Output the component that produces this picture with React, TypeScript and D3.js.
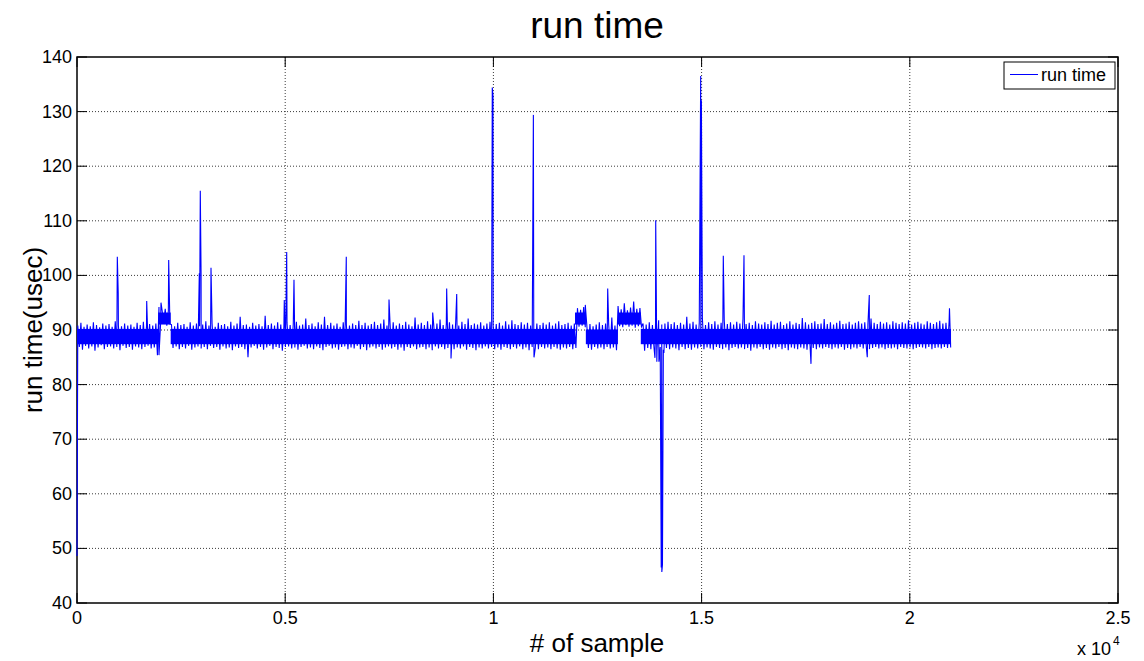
import React from 'react';
import * as d3 from 'd3';

// ---------- data ----------
const xTickValues = [0, 5000, 10000, 15000, 20000, 25000];
const xTickLabels = ['0', '0.5', '1', '1.5', '2', '2.5'];
const yTickValues = [40, 50, 60, 70, 80, 90, 100, 110, 120, 130, 140];

const binSize = 75; // samples per noise bin
const startValue = 48.6;

// upper envelope of the noise for each 75-sample bin
const binMax = [
  90.8, 91.3, 90.6, 91.0, 90.7, 91.4, 90.9, 90.5, 91.2, 90.8,
  91.1, 90.6, 91.6, 90.9, 90.7, 91.2, 90.8, 91.0, 90.6, 91.3,
  90.9, 91.5, 90.7, 91.1, 90.8, 91.2, 94.2, 93.6, 93.9, 93.5,
  91.0, 90.7, 91.3, 90.9, 91.1, 90.6, 91.4, 90.8, 91.2, 90.7,
  91.0, 91.6, 90.8, 91.2, 90.6, 91.3, 90.9, 91.1, 90.7, 91.5,
  90.8, 91.2, 92.4, 90.9, 91.0, 90.6, 91.3, 90.8, 91.1, 90.7,
  92.6, 90.9, 91.2, 90.8, 91.4, 91.0, 90.7, 91.3, 90.9, 91.1,
  91.5, 90.8, 91.0, 92.1, 90.9, 91.2, 90.7, 91.4, 91.0, 92.4,
  90.9, 91.3, 90.8, 91.2, 90.6, 91.4, 91.0, 90.8, 91.2, 90.9,
  91.7, 90.9, 91.3, 90.8, 91.1, 91.5, 90.9, 91.2, 91.9, 90.8,
  91.1, 91.4, 90.8, 91.2, 90.9, 91.5, 91.0, 90.7, 92.3, 91.0,
  91.3, 90.9, 91.6, 91.0, 90.8, 91.2, 91.9, 90.9, 91.1, 91.4,
  91.0, 91.3, 90.8, 91.5, 91.1, 92.1, 90.9, 91.2, 91.0, 91.4,
  90.8, 91.2, 91.5, 90.9, 91.1, 91.3, 90.8, 91.6, 91.0, 91.8,
  91.1, 90.9, 91.4, 91.0, 91.3, 90.8, 91.5, 91.2, 90.9, 91.3,
  91.0, 91.4, 90.8, 91.2, 91.6, 90.9, 91.1, 91.3, 90.8, 91.2,
  94.0, 93.7, 94.2, 90.8, 91.1, 90.7, 91.0, 91.4, 90.9, 91.2,
  91.0, 92.3, 90.8, 94.4, 93.8, 94.9, 93.6, 94.1, 95.2, 93.9,
  94.0, 91.2, 91.0, 91.4, 90.9, 91.3, 91.8, 91.0, 91.2, 91.5,
  91.1, 91.4, 90.9, 91.3, 91.0, 92.4, 91.2, 91.5, 91.0, 91.3,
  92.2, 90.9, 91.4, 91.1, 91.6, 91.0, 91.3, 91.8, 91.1, 91.4,
  91.0, 91.5, 91.2, 92.0, 91.1, 91.3, 90.9, 91.6, 91.2, 91.0,
  91.4, 91.1, 91.7, 91.0, 91.3, 91.5, 90.9, 91.2, 91.6, 91.0,
  91.3, 91.1, 92.2, 91.4, 91.0, 91.3, 91.6, 91.1, 91.2, 92.0,
  91.1, 91.4, 91.0, 91.3, 91.7, 91.1, 91.2, 91.5, 91.0, 91.3,
  91.6, 91.2, 91.4, 91.0, 92.1, 91.3, 91.1, 91.5, 91.2, 91.4,
  91.0, 91.6, 91.3, 91.1, 91.4, 91.2, 91.8, 91.0, 91.3, 91.5,
  91.2, 91.0, 91.6, 91.3, 91.1, 91.4, 91.7, 91.2, 91.3, 91.5,
];

// lower envelope of the noise for each 75-sample bin
const binMin = [
  86.9, 86.4, 87.1, 86.6, 87.0, 86.2, 86.8, 87.2, 86.5, 86.9,
  87.0, 86.6, 86.9, 86.3, 87.1, 86.7, 86.9, 86.4, 87.0, 86.8,
  86.5, 86.9, 87.1, 86.6, 86.8, 85.4, 90.9, 91.2, 90.8, 91.1,
  86.7, 87.0, 86.5, 86.9, 86.6, 87.1, 86.4, 86.8, 87.0, 86.6,
  86.9, 86.5, 87.1, 86.7, 86.9, 86.4, 87.0, 86.6, 86.8, 86.3,
  87.0, 86.7, 86.9, 86.5, 85.0, 86.8, 87.1, 86.6, 86.9, 86.4,
  86.8, 87.1, 86.5, 86.9, 86.7, 86.2, 86.9, 87.0, 86.6, 86.8,
  86.4, 86.9, 87.1, 86.6, 86.8, 86.5, 87.0, 86.7, 86.3, 86.9,
  87.1, 86.6, 86.8, 86.4, 86.9, 87.0, 86.5, 86.8, 86.6, 87.1,
  86.5, 86.9, 86.3, 86.8, 87.0, 86.6, 86.9, 86.4, 86.8, 87.0,
  86.6, 86.9, 86.4, 86.8, 86.2, 86.9, 86.7, 87.0, 86.5, 86.8,
  86.9, 86.5, 86.8, 86.3, 87.0, 86.6, 86.9, 86.5, 86.7, 87.0,
  86.5, 86.8, 86.6, 87.0, 86.4, 86.9, 86.7, 86.3, 86.8, 86.6,
  87.0, 86.6, 86.9, 86.5, 86.8, 86.4, 86.9, 86.7, 86.5, 86.9,
  86.6, 87.0, 86.5, 86.8, 86.3, 86.9, 86.7, 86.5, 86.9, 86.6,
  86.8, 86.5, 86.9, 86.6, 86.4, 86.8, 86.6, 86.9, 86.5, 86.7,
  90.6, 90.8, 90.5, 86.7, 86.4, 86.9, 86.6, 86.8, 86.5, 86.9,
  86.6, 86.8, 86.3, 90.7, 90.5, 90.9, 90.6, 90.8, 90.4, 90.7,
  90.6, 86.2, 86.7, 86.5, 86.8, 86.6, 86.9, 86.4, 86.7, 86.5,
  86.8, 86.6, 86.3, 86.9, 86.5, 86.7, 86.4, 86.8, 86.6, 86.9,
  86.5, 86.8, 86.6, 86.4, 86.9, 86.7, 86.5, 86.8, 86.3, 86.7,
  86.9, 86.6, 86.8, 86.5, 86.7, 86.2, 86.8, 86.6, 86.9, 86.5,
  86.7, 86.4, 86.8, 86.6, 86.9, 86.5, 86.7, 86.3, 86.8, 86.6,
  86.5, 86.8, 86.6, 86.4, 86.9, 86.7, 86.5, 86.8, 86.6, 86.9,
  86.7, 86.5, 86.8, 86.6, 86.9, 86.4, 86.7, 86.5, 86.8, 86.6,
  86.9, 86.6, 86.8, 86.5, 86.7, 86.9, 86.6, 86.8, 86.5, 86.7,
  86.6, 86.8, 86.5, 86.9, 86.7, 86.6, 86.8, 86.5, 86.7, 86.9,
  86.8, 86.6, 86.9, 86.5, 86.7, 86.8, 86.6, 86.9, 86.7, 86.8,
];

// tall spikes and deep dips
const peakSamples = [
  968, 990, 1674, 1969, 2017, 2202, 2937, 2961, 2980, 3218,
  4978, 5036, 5211, 6467, 7493, 8542, 8878, 8982, 9119, 9973,
  9990, 10960, 10975, 12207, 12745, 13880, 13898, 13925, 13975, 14030,
  14045, 14060, 14095, 14978, 14995, 15521, 16018, 17627, 18979, 19027,
  20953,
];
const peakValues = [
  103.4, 96.8, 95.3, 85.4, 95.0, 102.8, 100.4, 115.5, 100.0, 101.4,
  95.5, 104.3, 99.2, 103.4, 95.6, 93.2, 97.6, 84.8, 96.6, 134.4,
  132.9, 129.4, 85.0, 94.6, 97.6, 84.9, 110.1, 84.2, 84.2, 46.5,
  45.7, 47.0, 85.8, 136.5, 132.1, 103.6, 103.7, 83.8, 85.0, 96.4,
  94.0,
];

// dense core of the band for each level segment
const levelStart = [0, 1950, 2250, 11960, 12220, 12990, 13540];
const levelEnd = [1950, 2250, 11960, 12220, 12990, 13540, 20990];
const levelLo = [87.4, 91.0, 87.4, 91.0, 87.4, 91.0, 87.4];
const levelHi = [90.2, 93.2, 90.2, 93.2, 90.1, 93.2, 90.2];

// ---------- chart ----------
const FONT = '"Liberation Sans", Arial, Helvetica, sans-serif';
const L = 77, R = 1118, T = 57, B = 603;
const BLUE = '#0000ff';

export default function App() {
  const x = d3.scaleLinear().domain([0, 25000]).range([L, R]);
  const y = d3.scaleLinear().domain([40, 140]).range([B, T]);

  const pts: [number, number][] = [[0, startValue]];
  binMax.forEach((v, i) => {
    pts.push([(i + 0.25) * binSize, v]);
    pts.push([(i + 0.75) * binSize, binMin[i]]);
  });
  peakSamples.forEach((s, i) => pts.push([s, peakValues[i]]));
  pts.sort((a, b) => a[0] - b[0]);

  const line = d3
    .line<[number, number]>()
    .x((d) => x(d[0]))
    .y((d) => y(d[1]));

  const tickLen = 10;
  const gridStyle = { stroke: '#3a3a3a', strokeWidth: 1, strokeDasharray: '1,2' };

  return (
    <svg
      width={1144}
      height={661}
      style={{ position: 'absolute', left: 0, top: 0, background: '#fff' }}
      fontFamily={FONT}
    >
      <rect x={0} y={0} width={1144} height={661} fill="#fff" />
      {/* grid */}
      {xTickValues.slice(1, -1).map((v) => (
        <line key={'gx' + v} x1={x(v)} x2={x(v)} y1={T} y2={B} {...gridStyle} />
      ))}
      {yTickValues.slice(1, -1).map((v) => (
        <line key={'gy' + v} x1={L} x2={R} y1={y(v)} y2={y(v)} {...gridStyle} />
      ))}

      {/* ticks */}
      {xTickValues.map((v) => (
        <g key={'tx' + v}>
          <line x1={x(v)} x2={x(v)} y1={B} y2={B - tickLen} stroke="#000" strokeWidth={1} />
          <line x1={x(v)} x2={x(v)} y1={T} y2={T + tickLen} stroke="#000" strokeWidth={1} />
        </g>
      ))}
      {yTickValues.map((v) => (
        <g key={'ty' + v}>
          <line x1={L} x2={L + tickLen} y1={y(v)} y2={y(v)} stroke="#000" strokeWidth={1} />
          <line x1={R} x2={R - tickLen} y1={y(v)} y2={y(v)} stroke="#000" strokeWidth={1} />
        </g>
      ))}

      {/* box */}
      <rect x={L} y={T} width={R - L} height={B - T} fill="none" stroke="#000" strokeWidth={1.5} />

      {/* data */}
      <g>
        {levelStart.map((s, i) => (
          <rect
            key={'lv' + i}
            x={x(s)}
            width={x(levelEnd[i]) - x(s)}
            y={y(levelHi[i])}
            height={y(levelLo[i]) - y(levelHi[i])}
            fill={BLUE}
          />
        ))}
        <path d={line(pts) || ''} fill="none" stroke={BLUE} strokeWidth={1.1} />
      </g>

      {/* tick labels */}
      {xTickValues.map((v, i) => (
        <text key={'lx' + v} x={x(v)} y={624} textAnchor="middle" fontSize={18} fill="#000">
          {xTickLabels[i]}
        </text>
      ))}
      {yTickValues.map((v) => (
        <text key={'ly' + v} x={72} y={y(v) + 6} textAnchor="end" fontSize={18} fill="#000">
          {v}
        </text>
      ))}
      <text x={1077} y={655} fontSize={18} fill="#000">x 10</text>
      <text x={1113} y={645} fontSize={12} fill="#000">4</text>

      {/* titles */}
      <text x={597} y={38} textAnchor="middle" fontSize={37} fill="#000">run time</text>
      <text x={597} y={652} textAnchor="middle" fontSize={26} fill="#000"># of sample</text>
      <text
        transform={`translate(42, ${(T + B) / 2}) rotate(-90)`}
        textAnchor="middle"
        fontSize={26}
        fill="#000"
      >
        run time(usec)
      </text>

      {/* legend */}
      <rect x={1004} y={62} width={111} height={27} fill="#fff" stroke="#000" strokeWidth={1} />
      <line x1={1010} x2={1038} y1={74.5} y2={74.5} stroke={BLUE} strokeWidth={1} />
      <text x={1041} y={81} fontSize={18} fill="#000">run time</text>
    </svg>
  );
}
